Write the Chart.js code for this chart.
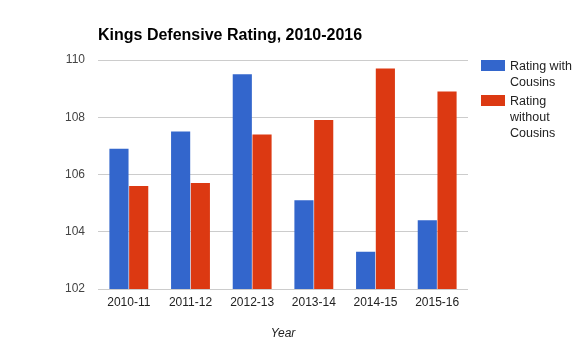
<!DOCTYPE html>
<html>
<head>
<meta charset="utf-8">
<script src="https://cdn.jsdelivr.net/npm/chart.js@4/dist/chart.umd.min.js"></script>
<style>
  html, body { margin: 0; padding: 0; background: #fff; }
  #wrap { position: relative; width: 579px; height: 352px; }
  #legend { position: absolute; left: 481px; top: 58px; font-family: Arial, "Liberation Sans", sans-serif; font-size: 12.5px; color: #222; }
  .item { position: relative; padding-left: 29px; line-height: 16px; margin-bottom: 3px; }
  .sw { position: absolute; left: 0; top: 2px; width: 24px; height: 11px; }
</style>
</head>
<body>
<div id="wrap">
  <canvas id="c" width="579" height="352"></canvas>
  <div id="legend"></div>
</div>
<script>
const titleText = "Kings Defensive Rating, 2010-2016";
const categories = ["2010-11", "2011-12", "2012-13", "2013-14", "2014-15", "2015-16"];
const seriesNames = ["Rating with Cousins", "Rating without Cousins"];
const legendLines = [["Rating with", "Cousins"], ["Rating", "without", "Cousins"]];
const withCousins = [106.9, 107.5, 109.5, 105.1, 103.3, 104.4];
const withoutCousins = [105.6, 105.7, 107.4, 107.9, 109.7, 108.9];
const yTicks = [102, 104, 106, 108, 110];
const xAxisTitle = "Year";
const colors = ["#3366cc", "#dc3912"];

const titlePlugin = {
  id: 'leftTitle',
  afterDraw(chart) {
    const ctx = chart.ctx;
    ctx.save();
    ctx.font = "bold 16px Arial, 'Liberation Sans', sans-serif";
    ctx.fillStyle = "#000";
    ctx.textBaseline = "alphabetic";
    ctx.textAlign = "left";
    ctx.fillText(titleText, chart.chartArea.left, 40);
    ctx.restore();
  }
};

const chart = new Chart(document.getElementById('c'), {
  type: 'bar',
  data: {
    labels: categories,
    datasets: [
      { label: seriesNames[0], data: withCousins, backgroundColor: colors[0], borderWidth: 0 },
      { label: seriesNames[1], data: withoutCousins, backgroundColor: colors[1], borderWidth: 0 }
    ]
  },
  options: {
    responsive: false,
    animation: false,
    devicePixelRatio: 1,
    layout: { padding: { top: 60, right: 111, left: 0, bottom: 0 } },
    plugins: { legend: { display: false }, title: { display: false }, tooltip: { enabled: false } },
    datasets: { bar: { categoryPercentage: 0.64, barPercentage: 0.97 } },
    scales: {
      x: {
        grid: { display: false, drawTicks: false },
        border: { display: false },
        ticks: { color: "#222", font: { family: "Arial, 'Liberation Sans', sans-serif", size: 12 }, padding: 6, maxRotation: 0 },
        title: { display: true, text: xAxisTitle, color: "#222", font: { family: "Arial, 'Liberation Sans', sans-serif", size: 12, style: 'italic' }, padding: { top: 4, bottom: 11 } },
        afterFit(s) { s.height = 63; }
      },
      y: {
        min: yTicks[0], max: yTicks[yTicks.length - 1],
        afterBuildTicks(s) { s.ticks = yTicks.map(v => ({ value: v })); },
        grid: { color: "#cccccc", drawTicks: false },
        border: { display: false },
        ticks: { color: "#444", font: { family: "Arial, 'Liberation Sans', sans-serif", size: 12 }, padding: 13 },
        afterFit(s) { s.width = 98; }
      }
    }
  },
  plugins: [titlePlugin]
});

const legend = document.getElementById('legend');
chart.data.datasets.forEach((ds, i) => {
  const item = document.createElement('div');
  item.className = 'item';
  const sw = document.createElement('span');
  sw.className = 'sw';
  sw.style.background = ds.backgroundColor;
  item.appendChild(sw);
  legendLines[i].forEach((line, j) => {
    if (j) item.appendChild(document.createElement('br'));
    item.appendChild(document.createTextNode(line));
  });
  legend.appendChild(item);
});
</script>
</body>
</html>
